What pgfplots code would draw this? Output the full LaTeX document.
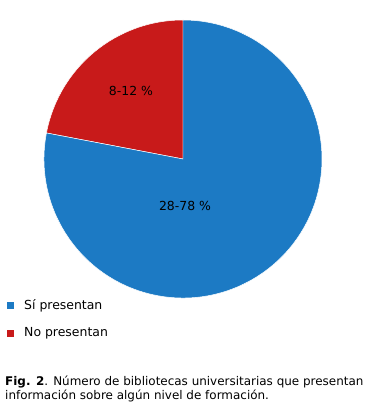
\documentclass[border=0pt]{standalone}
\usepackage{pgfplots}
\pgfplotsset{compat=1.18}
\usepackage{pgfplotstable}
\usepackage{fontspec}
\setmainfont{DejaVu Sans}
\definecolor{piblue}{RGB}{28,122,196}
\definecolor{pired}{RGB}{200,26,26}
\pgfplotstableread{
label value
Si 78
No 22
}\piedata
\begin{document}
\begin{tikzpicture}
\pgfplotstablegetelem{0}{value}\of\piedata \let\vSi\pgfplotsretval
\pgfplotstablegetelem{1}{value}\of\piedata \let\vNo\pgfplotsretval
\pgfmathsetmacro{\aNo}{90+360*\vNo/(\vSi+\vNo)}
\begin{axis}[x=1bp,y=1bp,xmin=0,xmax=368,ymin=0,ymax=409,hide axis,clip=false,scale only axis,
  legend style={at={(axis cs:7,112)},anchor=north west,draw=none,fill=none,
    font=\fontsize{12.5}{14}\selectfont,row sep=13bp,column sep=9bp,
    legend cell align=left,inner sep=0pt},
  legend cell align=left]
\addlegendimage{only marks,mark=square*,mark size=3bp,color=piblue}
\addlegendentry{Sí presentan}
\addlegendimage{only marks,mark=square*,mark size=3bp,color=pired}
\addlegendentry{No presentan}
\path (axis cs:0,0) rectangle (axis cs:368,409);
\fill[pired,draw=white,line width=0.5pt] (axis cs:183,250) -- +(90:139bp) arc[start angle=90,end angle=\aNo,radius=139bp] -- cycle;
\fill[piblue,draw=white,line width=0.5pt] (axis cs:183,250) -- +(\aNo:139bp) arc[start angle=\aNo,end angle=450,radius=139bp] -- cycle;
\node[font=\fontsize{12.5}{14}\selectfont] at (axis cs:131,318) {8-12 \%};
\node[font=\fontsize{12.5}{14}\selectfont] at (axis cs:185,203) {28-78 \%};
\node[anchor=north west,align=left,inner sep=0pt,font=\fontsize{12}{14}\selectfont] at (axis cs:5,33) {\textbf{Fig. 2}. Número de bibliotecas universitarias que presentan\\información sobre algún nivel de formación.};
\end{axis}
\end{tikzpicture}
\end{document}
